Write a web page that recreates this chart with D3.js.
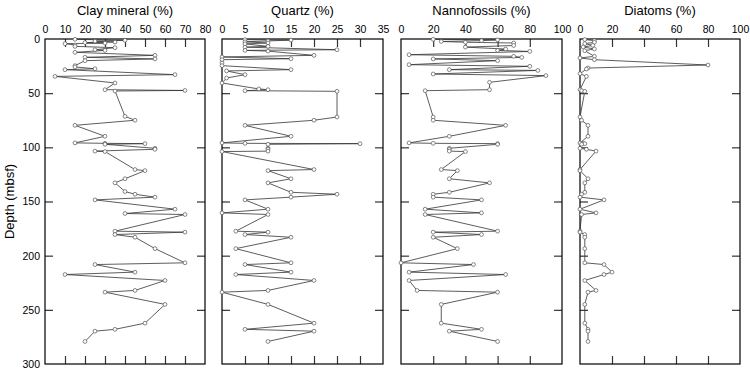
<!DOCTYPE html>
<html>
<head>
<meta charset="utf-8">
<script src="https://cdn.jsdelivr.net/npm/d3@7"></script>
<style>
  html, body { margin: 0; padding: 0; background: #fff; }
  svg text { font-family: "Liberation Sans", Arial, Helvetica, sans-serif; fill: #000; }
</style>
</head>
<body>
<svg id="chart" width="750" height="372"></svg>
<script>
// ---- Data: [depth (mbsf), percent] ----
const clay = [[0.3,15],[1.2,40],[2.0,25],[2.8,35],[3.3,20],[3.8,30],[4.3,10],[5.5,15],[6.8,15],[8.0,35],
  [9.9,25],[10.5,30],[12.3,15],[15.1,55],[16.9,20],[18.4,55],[20.0,20],[24.6,15],[25.8,15],[27.5,25],
  [28.3,10],[32.9,65],[34.5,5],[40.6,35],[46.8,30],[47.5,70],[48.0,35],[71.4,40],[75.0,45],[79.7,15],
  [89.8,30],[95.9,15],[96.3,30],[96.6,50],[97.2,30],[100.9,55],[101.8,55],[103.5,25],[103.9,30],[120.5,45],
  [121.5,50],[129.0,40],[132.8,35],[140.8,40],[143.3,45],[146.0,55],[148.5,25],[157.1,65],[161.1,40],[162.0,70],
  [177.4,35],[178.3,70],[180.5,35],[183.0,45],[193.5,55],[206.6,70],[208.2,25],[215.2,45],[217.4,10],[222.9,60],
  [232.1,45],[233.7,30],[245.0,60],[262.3,50],[268.0,35],[269.7,25],[279.2,20]];

const quartz = [[0.6,5],[1.0,15],[1.8,10],[2.6,5],[3.7,10],[4.5,5],[6.8,10],[7.5,5],[9.9,25],[10.5,5],
  [11.2,10],[15.1,20],[16.6,0],[18.2,15],[19.1,0],[22.2,0],[24.6,0],[28.3,15],[29.5,1],[32.9,5],
  [36.0,1],[40.6,0],[46.1,8],[46.8,10],[47.7,5],[48.3,25],[72.0,25],[75.0,20],[79.7,5],[89.8,15],
  [95.9,0],[96.3,5],[96.6,30],[97.2,10],[100.9,10],[101.8,10],[103.5,10],[103.9,0],[120.5,20],[121.5,10],
  [129.0,15],[132.8,10],[141.5,15],[143.3,25],[146.0,15],[148.5,5],[157.1,10],[160.5,0],[162.0,10],[177.4,3],
  [178.3,10],[180.5,5],[183.0,15],[193.5,3],[206.6,15],[208.2,5],[215.2,15],[217.4,3],[222.9,20],[232.1,10],
  [233.7,0],[245.0,10],[262.3,20],[268.0,5],[269.7,20],[279.2,10]];

const nanno = [[0.3,20],[0.8,60],[1.5,50],[2.3,25],[3.0,40],[3.7,70],[6.0,70],[7.5,40],[9.3,65],[10.5,60],
  [11.5,80],[14.5,5],[16.0,70],[17.0,75],[18.4,20],[20.0,60],[23.7,5],[25.2,80],[28.3,30],[29.0,85],
  [32.3,20],[33.8,90],[40.0,55],[46.8,55],[47.7,15],[72.0,20],[75.0,20],[79.7,65],[89.8,30],[95.9,5],
  [96.3,20],[96.6,60],[97.2,60],[100.9,30],[101.8,30],[103.5,30],[103.9,40],[120.5,25],[121.5,35],[129.0,30],
  [132.8,55],[141.5,30],[143.3,20],[146.0,20],[148.5,50],[157.1,15],[160.5,50],[162.0,15],[177.4,60],[178.3,20],
  [180.5,50],[183.0,20],[193.5,35],[206.6,0],[208.2,45],[215.2,5],[217.4,65],[222.9,5],[232.1,10],[233.7,60],
  [245.0,25],[262.3,25],[268.0,50],[269.7,30],[279.2,60]];

const diatoms = [[0.5,3],[1.5,9],[3.1,9],[4.3,3],[5.9,8],[7.4,2],[9.2,9],[10.8,3],[16.0,9],[17.5,0],
  [19.1,9],[24.0,80],[26.8,5],[27.7,4],[32.0,0],[34.5,4],[46.8,0],[47.7,1],[48.3,3],[72.0,0],
  [75.0,1],[79.7,5],[89.8,5],[95.9,0],[96.3,2],[96.6,3],[97.2,1],[100.9,0],[101.8,4],[103.5,10],
  [120.5,0],[121.5,0],[129.0,5],[132.8,3],[141.5,3],[143.3,1],[146.0,0],[148.5,15],[157.1,0],[160.5,10],
  [162.0,1],[177.4,0],[178.3,0],[180.5,3],[183.0,3],[193.5,3],[206.6,3],[208.2,15],[215.2,20],[217.4,15],
  [222.9,3],[232.1,10],[233.7,5],[245.0,3],[262.3,3],[268.0,5],[269.7,5],[279.2,5]];

const titles = ["Clay mineral (%)", "Quartz (%)", "Nannofossils (%)", "Diatoms (%)"];
const xMax = [80, 35, 100, 100];
const xStep = [10, 5, 20, 20];
const depthTicks = [0, 50, 100, 150, 200, 250, 300];
const depthLabel = "Depth (mbsf)";
const series = [clay, quartz, nanno, diatoms];

// ---- Layout ----
const svg = d3.select("#chart");
const yTop = 39, yBottom = 364;
const panelX = [[45, 205], [222, 383], [401, 562], [580, 740]];
const y = d3.scaleLinear().domain([0, 300]).range([yTop, yBottom]);

series.forEach((data, i) => {
  const [x0, x1] = panelX[i];
  const x = d3.scaleLinear().domain([0, xMax[i]]).range([x0, x1]);
  const allTicks = d3.range(0, xMax[i] + 0.001, xStep[i]);
  const innerX = allTicks.slice(1, -1);
  const innerY = depthTicks.slice(1, -1);
  const g = svg.append("g");

  // title
  g.append("text").attr("x", (x0 + x1) / 2).attr("y", 15)
    .attr("text-anchor", "middle").style("font-size", "13px").text(titles[i]);

  // top labels
  const lab = g.append("g").attr("transform", `translate(0,${yTop})`)
    .call(d3.axisTop(x).tickValues(allTicks).tickSize(0).tickPadding(6).tickFormat(d3.format("d")));
  lab.select(".domain").remove();
  lab.selectAll("text").style("font-size", "10.5px").attr("fill", "#000");

  // inner ticks
  const tk = (sel) => { sel.select(".domain").remove(); sel.selectAll("line").attr("stroke", "#333").attr("stroke-width", 1.2); };
  g.append("g").attr("transform", `translate(0,${yTop})`)
    .call(d3.axisTop(x).tickValues(innerX).tickSize(-8).tickFormat("")).call(tk);
  g.append("g").attr("transform", `translate(0,${yBottom})`)
    .call(d3.axisBottom(x).tickValues(innerX).tickSize(-8).tickFormat("")).call(tk);
  g.append("g").attr("transform", `translate(${x0},0)`)
    .call(d3.axisLeft(y).tickValues(innerY).tickSize(-8).tickFormat("")).call(tk);
  g.append("g").attr("transform", `translate(${x1},0)`)
    .call(d3.axisRight(y).tickValues(innerY).tickSize(-8).tickFormat("")).call(tk);

  if (i === 0) {
    const yl = g.append("g").attr("transform", `translate(${x0},0)`)
      .call(d3.axisLeft(y).tickValues(depthTicks).tickSize(0).tickPadding(5));
    yl.select(".domain").remove();
    yl.selectAll("text").style("font-size", "10.5px").attr("fill", "#000");
    g.append("text").attr("transform", `translate(14,${(yTop + yBottom) / 2}) rotate(-90)`)
      .attr("text-anchor", "middle").style("font-size", "13px").text(depthLabel);
  }

  // frame
  g.append("rect").attr("x", x0).attr("y", yTop).attr("width", x1 - x0).attr("height", yBottom - yTop)
    .attr("fill", "none").attr("stroke", "#000").attr("stroke-width", 1.2);

  // line
  const line = d3.line().x(d => x(d[1])).y(d => y(d[0]));
  g.append("path").datum(data).attr("d", line)
    .attr("fill", "none").attr("stroke", "#333").attr("stroke-width", 0.8);

  // markers
  g.selectAll("circle.pt").data(data).enter().append("circle")
    .attr("class", "pt").attr("cx", d => x(d[1])).attr("cy", d => y(d[0])).attr("r", 1.9)
    .attr("fill", "#fff").attr("stroke", "#555").attr("stroke-width", 0.7);
});
</script>
</body>
</html>
